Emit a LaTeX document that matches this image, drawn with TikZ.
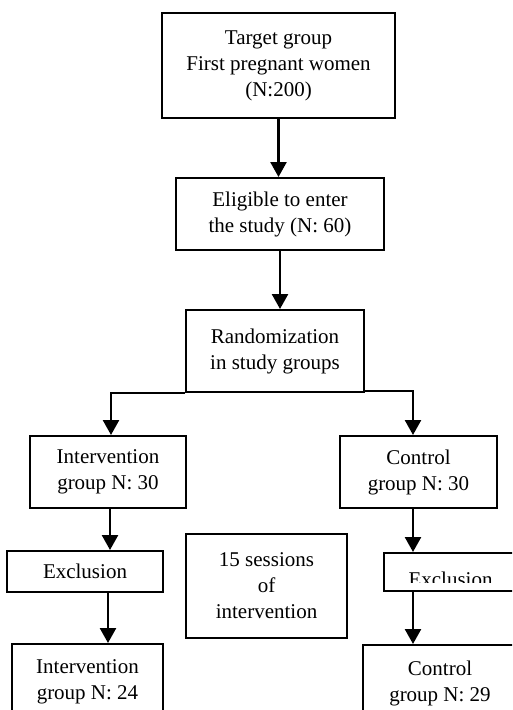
\documentclass[tikz,border=0pt]{standalone}
\usepackage{fontspec}
\setmainfont{Liberation Serif}
\usetikzlibrary{arrows.meta}

\begin{document}
\begin{tikzpicture}[x=1pt,y=-1pt,
    flowtext/.style={
        inner sep=0pt,
        align=center,
        font=\fontsize{21}{26}\selectfont
    },
    flowbox/.style={
        flowtext,
        draw=black,
        line width=2pt
    },
    flowarrow/.style={
        black,
        line width=2.5pt,
        -{Triangle[length=15pt,width=16pt]}
    }
]
\useasboundingbox (0,0) rectangle (512,710);
\clip (0,0) rectangle (512,710);

% main column
\node[flowbox, minimum width=233pt, minimum height=105pt]
(target) at (278.5,65.5)
{Target group\\First pregnant women\\(N:200)};

\node[flowbox, minimum width=208pt, minimum height=72pt]
(eligible) at (280,214)
{Eligible to enter\\the study (N: 60)};

\node[flowbox, minimum width=178pt, minimum height=82pt]
(random) at (275,351)
{Randomization\\in study groups};

% two groups
\node[flowbox, minimum width=156pt, minimum height=72pt]
(interv) at (108,472)
{Intervention\\group N: 30};

\node[flowbox, minimum width=157pt, minimum height=72pt]
(control) at (418.5,472)
{Control\\group N: 30};

\node[flowbox, minimum width=156pt, minimum height=41pt]
(exclL) at (85,571.5)
{Exclusion};

\node[flowbox, minimum width=160pt, minimum height=38pt]
(exclR) at (463.5,572)
{};

\begin{scope}
\clip (exclR.north west) rectangle (512,582);
\node[flowtext]
(exclRtext) at (450.5,579)
{Exclusion};
\end{scope}

\node[flowbox, minimum width=161pt, minimum height=104pt]
(sessions) at (266.5,586)
{15 sessions\\of\\intervention};

\node[flowbox, minimum width=151pt, minimum height=76pt]
(interv24) at (87.5,682)
{Intervention\\group N: 24};

\node[flowbox, minimum width=154pt, minimum height=76pt]
(control29) at (440,683)
{Control\\group N: 29};

% connectors
\draw[flowarrow]
(target.south) -- (target.south |- eligible.north);

\draw[flowarrow]
(eligible.south) -- (eligible.south |- random.north);

\draw[flowarrow]
(random.south west) -| ([xshift=3pt]interv.north);

\draw[flowarrow]
([yshift=2pt]random.south east) -| ([xshift=-5.5pt]control.north);

\draw[flowarrow]
([xshift=2pt]interv.south) -- ([xshift=2pt]interv.south |- exclL.north);

\draw[flowarrow]
(interv.south |- exclL.south) -- (interv.south |- interv24.north);

\draw[flowarrow]
([xshift=-5.5pt]control.south) -- ([xshift=-5.5pt]control.south |- exclR.north);

\draw[flowarrow]
([xshift=-5.5pt]control.south |- exclR.south) -- ([xshift=-5.5pt]control.south |- control29.north);
\end{tikzpicture}
\end{document}
